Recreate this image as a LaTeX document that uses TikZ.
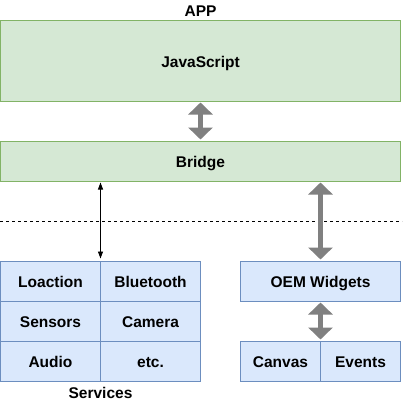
\documentclass[tikz,border=0pt]{standalone}
\usepackage{fontspec}
\setmainfont{Liberation Sans}
\usetikzlibrary{arrows.meta}

\definecolor{appfill}{HTML}{D5E8D4}
\definecolor{appdraw}{HTML}{82B366}
\definecolor{svcfill}{HTML}{DAE8FC}
\definecolor{svcdraw}{HTML}{6C8EBF}
\definecolor{pipegray}{HTML}{808080}

\begin{document}
\begin{tikzpicture}[x=1pt, y=-1pt,
  font=\fontsize{15.5}{18}\selectfont\bfseries,
  every node/.style={text height=12pt, text depth=0pt},
  appbox/.style={draw=appdraw, fill=appfill, line width=1pt, inner sep=0pt, minimum width=400pt},
  svcbox/.style={draw=svcdraw, fill=svcfill, line width=1pt, inner sep=0pt, minimum height=40pt},
  cell/.style={svcbox, minimum width=100pt},
  pipe/.style={draw=pipegray, line width=4.5pt,
    {Triangle[width=24pt,length=12pt]}-{Triangle[width=24pt,length=12pt]},
    shorten >=1pt, shorten <=1pt},
  wire/.style={draw=black, line width=0.9pt,
    {Triangle[width=5pt,length=7pt]}-{Triangle[width=5pt,length=7pt]},
    shorten >=2pt, shorten <=1pt}
]
  \useasboundingbox (0,0) rectangle (402,404);

  % APP layer
  \node (app) at (200.5,11) {APP};
  \node[appbox, minimum height=80pt] (js) at (200.5,61) {JavaScript};
  \node[appbox, minimum height=40pt] (bridge) at (200.5,161) {Bridge};
  \draw[pipe] (js.south) -- (bridge.north);

  % native / js boundary
  \coordinate (cutl) at (0,221);
  \coordinate (cutr) at (402,221);
  \draw[dash pattern=on 3pt off 3pt, line width=0.8pt] (cutl) -- (cutr);

  % Services grid
  \node[svcbox, minimum width=200pt, minimum height=120pt] (services) at (100.5,321) {};
  \node[cell] (location) at (50.5,281) {Loaction};
  \node[cell] (bluetooth) at (150.5,281) {Bluetooth};
  \node[cell] (sensors) at (50.5,321) {Sensors};
  \node[cell] (camera) at (150.5,321) {Camera};
  \node[cell] (audio) at (50.5,361) {Audio};
  \node[cell] (etc) at (150.5,361) {etc.};
  \node (svclabel) at (100.5,392) {Services};
  \draw[wire] (services.north |- bridge.south) -- (services.north);

  % OEM widgets
  \node[svcbox, minimum width=160pt] (oem) at (320.5,281) {OEM Widgets};
  \draw[pipe] (oem.north |- bridge.south) -- (oem.north);

  % Canvas / Events
  \node[svcbox, minimum width=160pt] (widgetlib) at (320.5,361) {};
  \node[svcbox, minimum width=80pt] (canvas) at (280.5,361) {Canvas};
  \node[svcbox, minimum width=80pt] (events) at (360.5,361) {Events};
  \draw[pipe] (oem.south) -- (widgetlib.north);

\end{tikzpicture}
\end{document}
